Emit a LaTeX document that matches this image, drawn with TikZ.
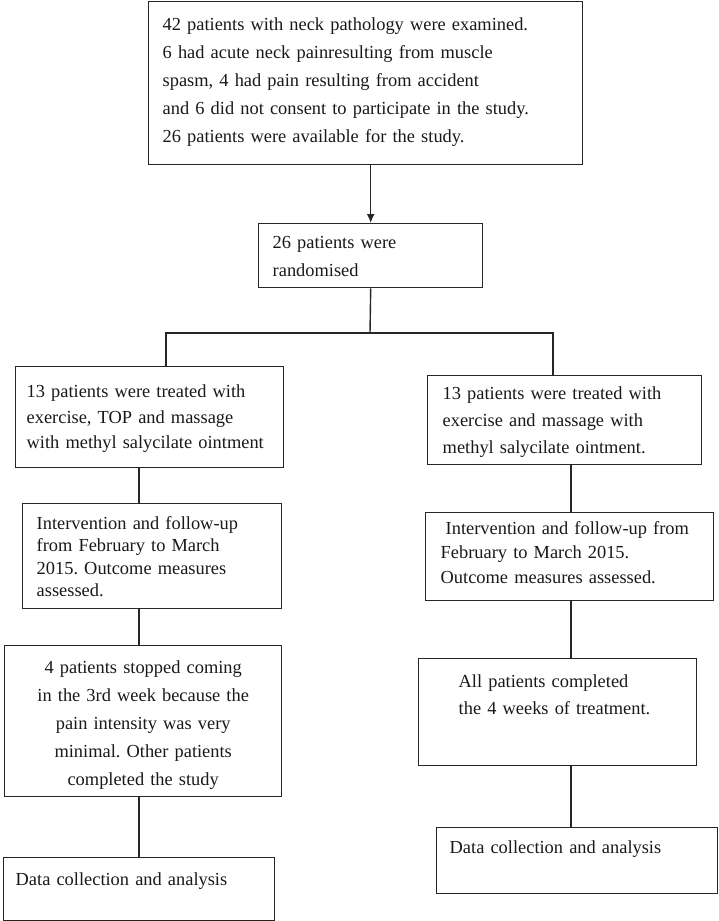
\documentclass[tikz,border=0pt]{standalone}
\usepackage{fontspec}
\setmainfont{Liberation Serif}
\usetikzlibrary{arrows.meta}

\begin{document}
\frenchspacing
\begin{tikzpicture}[x=1pt,y=-1pt,
box/.style={draw=black!85,line width=1.4pt,anchor=north west,inner ysep=0pt,align=left,text=black!90,font=\fontsize{18.4}{28}\selectfont},
line/.style={draw=black!85,line width=1.4pt},
arr/.style={line,-{Latex[length=9pt,width=8pt]}}]
\useasboundingbox (0,0) rectangle (718,921);
% screening and randomisation
\node[box,inner xsep=14pt,text width=406pt,text height=29pt,text depth=134pt] (screen) at (148,1) {42 patients with neck pathology were examined.\\ 6 had acute neck painresulting from muscle\\ spasm, 4 had pain resulting from accident\\ and 6 did not consent to participate in the study.\\ 26 patients were available for the study.};
\node[box,inner xsep=14pt,text width=196pt,text height=25pt,text depth=39pt] (rand) at (258,223) {26 patients were\\ randomised};
\coordinate (split) at (370,333);
\coordinate (splitA) at (166,333);
\coordinate (splitB) at (553,333);
\coordinate (colA) at (139,0);
\coordinate (colB) at (571,0);
% left group
\node[box,inner xsep=11pt,text width=246pt,text height=31pt,text depth=70pt,font=\fontsize{18.4}{25.5}\selectfont] (grpA) at (15,366) {13 patients were treated with\\ exercise, TOP and massage\\ with methyl salycilate ointment};
\node[box,inner xsep=14pt,text width=231pt,text height=25.5pt,text depth=79.5pt,font=\fontsize{18.4}{22.5}\selectfont] (intA) at (22,503) {Intervention and follow-up\\ from February to March\\ 2015. Outcome measures\\ assessed.};
\node[box,align=center,inner xsep=10pt,text width=257pt,text height=28pt,text depth=123pt] (stopA) at (4,645) {4 patients stopped coming\\ in the 3rd week because the\\ pain intensity was very\\ minimal. Other patients\\ completed the study};
\node[box,inner xsep=12pt,text width=247pt,text height=28pt,text depth=35pt] (dataA) at (3,857) {Data collection and analysis};
% right group
\node[box,inner xsep=15pt,text width=244pt,text height=24pt,text depth=65pt,font=\fontsize{18.4}{27}\selectfont] (grpB) at (427,375) {13 patients were treated with\\ exercise and massage with\\ methyl salycilate ointment.};
\node[box,inner xsep=15pt,text width=258pt,text height=21.5pt,text depth=66.5pt,font=\fontsize{18.4}{24.5}\selectfont] (intB) at (425,512) {\hspace*{5pt}Intervention and follow-up from\\ February to March 2015.\\ Outcome measures assessed.};
\node[box,inner xsep=40pt,text width=198pt,text height=29pt,text depth=78pt,font=\fontsize{18.4}{27}\selectfont] (doneB) at (418,658) {All patients completed\\ the 4 weeks of treatment.};
\node[box,inner xsep=13pt,text width=255pt,text height=26pt,text depth=40pt] (dataB) at (436,827) {Data collection and analysis};
% connectors
\draw[arr] (screen.south -| rand.north) -- (rand.north);
\draw[line] (rand.south) -- (split);
\draw[line] (splitA |- grpA.north) -- (splitA) -- (splitB) -- (splitB |- grpB.north);
\draw[line] (grpA.south -| colA) -- (intA.north -| colA);
\draw[line] (intA.south -| colA) -- (stopA.north -| colA);
\draw[line] (stopA.south -| colA) -- (dataA.north -| colA);
\draw[line] (grpB.south -| colB) -- (intB.north -| colB);
\draw[line] (intB.south -| colB) -- (doneB.north -| colB);
\draw[line] (doneB.south -| colB) -- (dataB.north -| colB);
\end{tikzpicture}
\end{document}
